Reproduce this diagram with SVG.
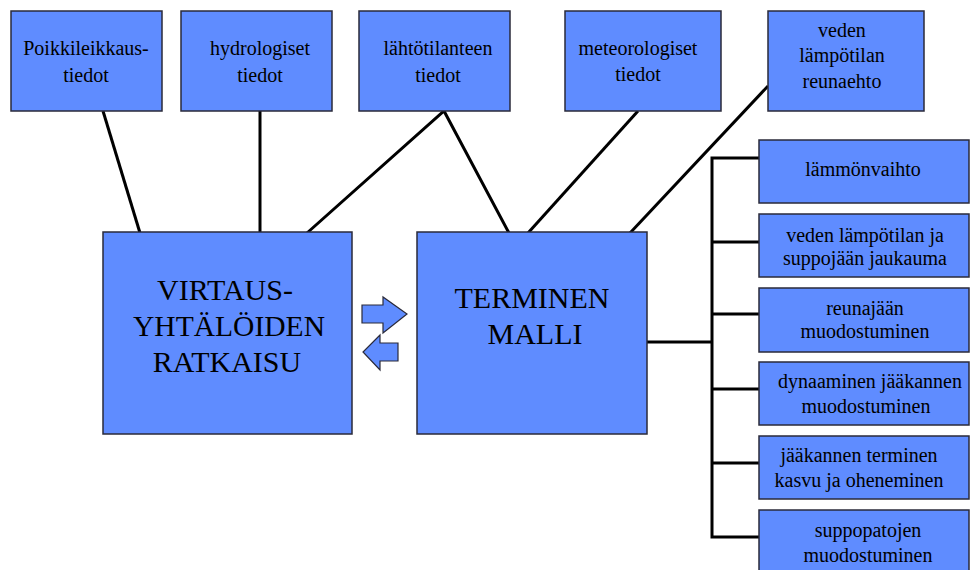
<svg xmlns="http://www.w3.org/2000/svg" width="970" height="570" viewBox="0 0 970 570">
<style>
.b{fill:#5f8cff;stroke:#2a2a3a;stroke-width:1.5}
.t{font-family:'Liberation Serif','DejaVu Serif',serif;font-size:20px;fill:#000;text-anchor:middle}
.L{font-size:30px}
.c{stroke:#000;stroke-width:3;fill:none}
.a{fill:#5f8cff;stroke:#2a2a3a;stroke-width:1.2;stroke-linejoin:miter}
</style>
<rect width="970" height="570" fill="#fff"/>
<g id="connectors">
<line class="c" x1="103" y1="111" x2="140" y2="233"/>
<line class="c" x1="260" y1="111" x2="260" y2="233"/>
<polyline class="c" points="307,233 444,111 509,233"/>
<line class="c" x1="638" y1="111" x2="528" y2="233"/>
<line class="c" x1="768" y1="86" x2="630" y2="233"/>
<line class="c" x1="647" y1="342" x2="712" y2="342"/>
<polyline class="c" points="759,158 712,158 712,537 759,537"/>
<line class="c" x1="712" y1="242" x2="759" y2="242"/>
<line class="c" x1="712" y1="314" x2="759" y2="314"/>
<line class="c" x1="712" y1="389" x2="759" y2="389"/>
<line class="c" x1="712" y1="463" x2="759" y2="463"/>
</g>
<g id="n1"><rect class="b" x="11" y="11" width="151" height="100"/><text class="t" x="86" y="55">Poikkileikkaus-</text><text class="t" x="86" y="82">tiedot</text></g>
<g id="n2"><rect class="b" x="181" y="11" width="151" height="100"/><text class="t" x="260" y="55">hydrologiset</text><text class="t" x="260" y="82">tiedot</text></g>
<g id="n3"><rect class="b" x="359" y="11" width="151" height="100"/><text class="t" x="438" y="55">lähtötilanteen</text><text class="t" x="438" y="82">tiedot</text></g>
<g id="n4"><rect class="b" x="565" y="11" width="156" height="100"/><text class="t" x="638" y="55">meteorologiset</text><text class="t" x="638" y="81">tiedot</text></g>
<g id="n5"><rect class="b" x="768" y="11" width="156" height="100"/><text class="t" x="842" y="37">veden</text><text class="t" x="842" y="62">lämpötilan</text><text class="t" x="842" y="88">reunaehto</text></g>
<g id="virtaus"><rect class="b" x="103" y="232" width="249" height="202"/><text class="t L" x="225" y="300">VIRTAUS-</text><text class="t L" x="229" y="336" textLength="192" lengthAdjust="spacingAndGlyphs">YHTÄLÖIDEN</text><text class="t L" x="227" y="372">RATKAISU</text></g>
<g id="terminen"><rect class="b" x="417" y="232" width="230" height="202"/><text class="t L" x="532" y="308">TERMINEN</text><text class="t L" x="535" y="344">MALLI</text></g>
<g id="arrows">
<polygon class="a" points="362,305 383,305 383,297 407,314 383,333 383,323 362,323"/>
<polygon class="a" points="398,343 380,343 380,335 363,352 380,370 380,361 398,361"/>
</g>
<g id="r1"><rect class="b" x="759" y="140" width="210" height="63"/><text class="t" x="863" y="176">lämmönvaihto</text></g>
<g id="r2"><rect class="b" x="759" y="214" width="210" height="63"/><text class="t" x="865" y="242">veden lämpötilan ja</text><text class="t" x="865" y="265">suppojään jaukauma</text></g>
<g id="r3"><rect class="b" x="759" y="288" width="210" height="64"/><text class="t" x="865" y="315">reunajään</text><text class="t" x="865" y="338">muodostuminen</text></g>
<g id="r4"><rect class="b" x="759" y="362" width="210" height="63"/><text class="t" x="870" y="388">dynaaminen jääkannen</text><text class="t" x="866" y="413">muodostuminen</text></g>
<g id="r5"><rect class="b" x="759" y="436" width="210" height="63"/><text class="t" x="859" y="462">jääkannen terminen</text><text class="t" x="859" y="487">kasvu ja oheneminen</text></g>
<g id="r6"><rect class="b" x="759" y="510" width="210" height="64"/><text class="t" x="868" y="537">suppopatojen</text><text class="t" x="868" y="562">muodostuminen</text></g>
</svg>
